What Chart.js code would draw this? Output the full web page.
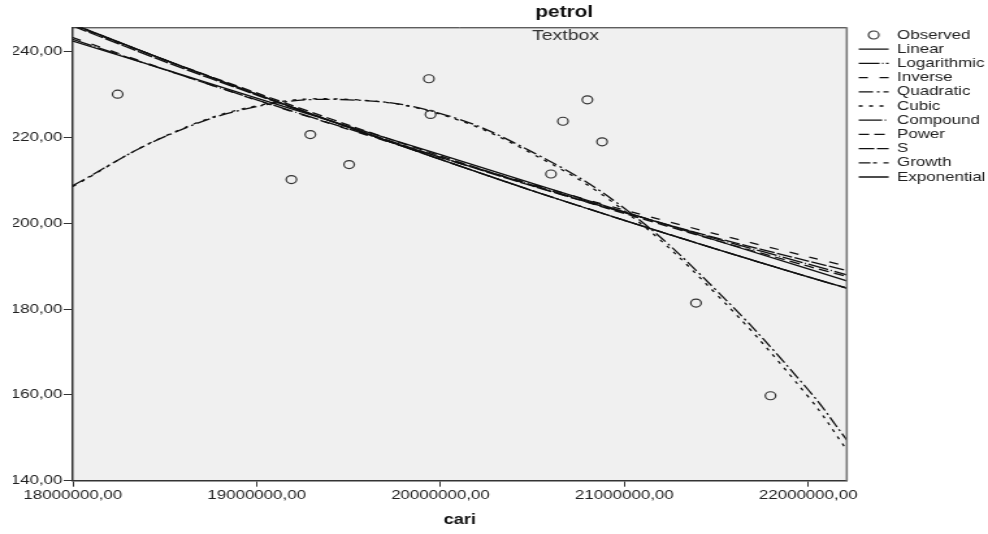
<!DOCTYPE html>
<html><head><meta charset="utf-8">
<script src="https://cdn.jsdelivr.net/npm/chart.js@4.4.1/dist/chart.umd.min.js"></script>
<style>
html,body{margin:0;padding:0;background:#fff;overflow:hidden}
#wrap{width:760px;height:534px;transform:scaleX(1.3);transform-origin:0 0}
</style>
</head><body>
<div id="wrap"><canvas id="c" width="760" height="534"></canvas></div>
<script>
// ---- data ----
const chartTitle = 'petrol';
const chartSubtitle = 'Textbox';
const xAxisTitle = 'cari';
const seriesNames = ['Observed','Linear','Logarithmic','Inverse','Quadratic','Cubic','Compound','Power','S','Growth','Exponential'];
const xTicks = [18000000, 19000000, 20000000, 21000000, 22000000];
const xTickLabels = ['18000000,00','19000000,00','20000000,00','21000000,00','22000000,00'];
const yTicks = [140, 160, 180, 200, 220, 240];
const yTickLabels = ['140,00','160,00','180,00','200,00','220,00','240,00'];
const obsX = [18244000, 19189000, 19292000, 19503000, 19937000, 19946000, 20601000, 20666000, 20799000, 20879000, 21390000, 21795000];
const obsY = [230.1, 210.2, 220.7, 213.7, 233.7, 225.4, 211.5, 223.8, 228.8, 219.0, 181.4, 159.8];
const fitX = [18000000, 18500000, 19000000, 19500000, 20000000, 20500000, 21000000, 21500000, 22000000, 22210000];
const linearY      = [242.5, 235.9, 229.2, 222.6, 216.0, 209.3, 202.7, 196.0, 189.4, 186.6];
const logarithmicY = [242.9, 235.8, 228.8, 222.0, 215.4, 208.9, 202.6, 196.4, 190.5, 188.0];
const inverseY     = [243.3, 235.9, 228.7, 221.9, 215.3, 209.1, 203.1, 197.5, 192.2, 190.0];
const quadraticY   = [208.8, 220.2, 227.2, 228.8, 225.6, 216.6, 203.5, 184.4, 161.2, 149.5];
const cubicY       = [208.6, 220.3, 227.4, 228.9, 225.4, 216.2, 202.9, 183.5, 159.6, 147.2];
const compoundY    = [246.4, 238.1, 230.1, 222.4, 214.9, 207.6, 200.7, 194.0, 187.5, 184.9];
const powerY       = [246.2, 238.1, 230.4, 222.9, 215.7, 208.8, 202.3, 196.0, 190.0, 187.6];
const sY           = [246.0, 237.7, 229.9, 222.4, 215.4, 208.7, 202.5, 196.6, 191.2, 189.0];
const growthY      = [246.4, 238.1, 230.1, 222.4, 214.9, 207.6, 200.7, 194.0, 187.5, 184.9];
const exponentialY = [246.4, 238.1, 230.1, 222.4, 214.9, 207.6, 200.7, 194.0, 187.5, 184.9];

// ---- styles ----
const FONT = "'Liberation Sans', Arial, sans-serif";
const fitSeries = [
  {name:'Linear', y: linearY, dash: [], tension: 0},
  {name:'Logarithmic', y: logarithmicY, dash: [16,2,1,2], tension: 0.3},
  {name:'Inverse', y: inverseY, dash: [7,9], tension: 0.3},
  {name:'Quadratic', y: quadraticY, dash: [11,3,2,3], tension: 0.4},
  {name:'Cubic', y: cubicY, dash: [3,5], tension: 0.4},
  {name:'Compound', y: compoundY, dash: [18,2,1,2], tension: 0.3},
  {name:'Power', y: powerY, dash: [8,4], tension: 0.3},
  {name:'S', y: sY, dash: [12,2], tension: 0.3},
  {name:'Growth', y: growthY, dash: [9,2,3,5], tension: 0.3},
  {name:'Exponential', y: exponentialY, dash: [], tension: 0.3}
];

const circleImg = document.createElement('canvas');
circleImg.width = 12; circleImg.height = 12;
(function(){ const g = circleImg.getContext('2d'); g.strokeStyle = '#333'; g.lineWidth = 1.2; g.beginPath(); g.arc(6,6,4,0,Math.PI*2); g.stroke(); })();

const datasets = [{
  label: seriesNames[0],
  data: obsX.map((x,i)=>({x, y: obsY[i]})),
  showLine: false,
  pointStyle: 'circle',
  pointRadius: 4,
  pointBorderWidth: 1.2,
  pointBorderColor: '#333',
  pointBackgroundColor: 'rgba(0,0,0,0)',
  order: 0
}].concat(fitSeries.map(s => ({
  label: s.name,
  data: fitX.map((x,i)=>({x, y: s.y[i]})),
  showLine: true,
  borderColor: '#111',
  borderWidth: 1.3,
  borderDash: s.dash,
  tension: s.tension,
  pointRadius: 0,
  pointStyle: 'line',
  fill: false,
  order: 1
})));

const framePlugin = {
  id: 'frame',
  afterLayout(chart) {
    chart.legend.left += 8; chart.legend.right += 8;
  },
  beforeDraw(chart) {
    const {ctx, chartArea: a} = chart;
    ctx.save();
    ctx.fillStyle = '#f0f0f0';
    ctx.fillRect(a.left, a.top, a.right - a.left, a.bottom - a.top);
    ctx.restore();
  },
  afterDatasetsDraw(chart) {
    const {ctx, chartArea: a} = chart;
    ctx.save();
    ctx.strokeStyle = '#222'; ctx.lineWidth = 1;
    ctx.beginPath(); ctx.moveTo(a.left, a.top + 0.5); ctx.lineTo(a.right, a.top + 0.5); ctx.stroke();
    ctx.strokeStyle = '#777'; ctx.lineWidth = 1.6;
    ctx.beginPath(); ctx.moveTo(a.right, a.top); ctx.lineTo(a.right, a.bottom); ctx.stroke();
    ctx.restore();
  },
  afterDraw(chart) {
    const {ctx} = chart;
    ctx.save();
    ctx.textAlign = 'center'; ctx.textBaseline = 'middle';
    ctx.fillStyle = '#111';
    ctx.font = "bold 16px " + FONT;
    ctx.fillText(chartTitle, 434, 13);
    ctx.fillStyle = '#333';
    ctx.font = "15px " + FONT;
    ctx.fillText(chartSubtitle, 435, 36);
    ctx.restore();
  }
};

new Chart(document.getElementById('c'), {
  type: 'scatter',
  data: { datasets },
  options: {
    responsive: false,
    animation: false,
    devicePixelRatio: 1,
    layout: { padding: { left: 10, top: 27.3, right: 0, bottom: 0 } },
    plugins: {
      tooltip: { enabled: false },
      title: { display: false },
      legend: {
        position: 'right',
        align: 'start',
        maxWidth: 110,
        labels: {
          usePointStyle: true,
          pointStyleWidth: 23,
          padding: 1.2,
          color: '#222',
          font: { family: FONT, size: 13 },
          generateLabels(chart) {
            const items = Chart.defaults.plugins.legend.labels.generateLabels(chart);
            items.forEach((it, i) => {
              const ds = chart.data.datasets[it.datasetIndex];
              if (i === 0) { it.pointStyle = circleImg; }
              else {
                it.pointStyle = 'line';
                it.lineDash = ds.borderDash;
                it.lineWidth = ds.borderWidth;
                it.strokeStyle = ds.borderColor;
              }
            });
            return items;
          }
        }
      }
    },
    scales: {
      x: {
        type: 'linear', min: 18000000, max: 22210000,
        afterBuildTicks: s => { s.ticks = xTicks.map(v => ({value: v})); },
        afterFit: s => { s.height = 53.3; },
        ticks: { callback: (v, i) => xTickLabels[i], color: '#222', font: { family: FONT, size: 13 }, padding: 1, maxRotation: 0, autoSkip: false },
        grid: { drawOnChartArea: false, drawTicks: true, tickLength: 6, color: '#333', lineWidth: 1 },
        border: { display: true, color: '#333', width: 1.5 },
        title: { display: true, text: xAxisTitle, color: '#111', font: { family: FONT, size: 14, weight: 'bold' }, padding: { top: 4, bottom: 5.6 } }
      },
      y: {
        type: 'linear', min: 140, max: 245.7,
        afterBuildTicks: s => { s.ticks = yTicks.map(v => ({value: v})); },
        afterFit: s => { s.width = 46; },
        ticks: { callback: (v, i) => yTickLabels[i], color: '#222', font: { family: FONT, size: 13 }, padding: 1, autoSkip: false },
        grid: { drawOnChartArea: false, drawTicks: true, tickLength: 7, color: '#333', lineWidth: 1 },
        border: { display: true, color: '#333', width: 1.5 }
      }
    }
  },
  plugins: [framePlugin]
});
</script>
</body></html>
